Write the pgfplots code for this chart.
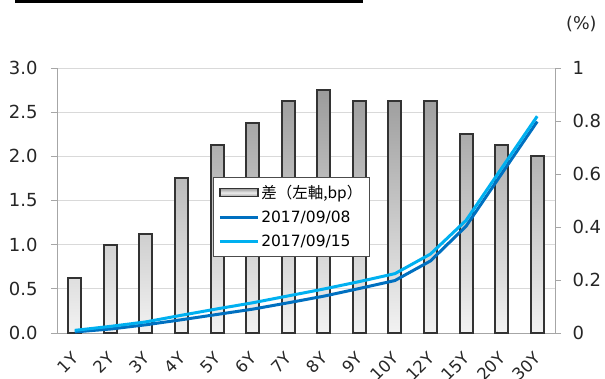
\documentclass[border=0pt]{standalone}
\usepackage{fontspec}
\setmainfont{DejaVu Sans}
\newfontfamily\cjk{Noto Sans CJK JP}
\usepackage{pgfplots}
\pgfplotsset{compat=1.18}
\definecolor{darkblue}{HTML}{0070C0}
\definecolor{lightblue}{HTML}{00B0F0}
\definecolor{gridgray}{HTML}{D9D9D9}
\definecolor{axisgray}{HTML}{A6A6A6}
\pgfplotsset{shortline/.style={legend image code/.code={\draw[##1] (0pt,0pt) -- (38pt,0pt);}}}
\begin{document}
\begin{tikzpicture}[x=1pt,y=1pt]
\useasboundingbox (0,0) rectangle (605,378);
\draw[line width=3pt] (15,376.5) -- (363,376.5);
\node[anchor=west, font=\fontsize{17.5}{20}\selectfont, text=black!85, inner sep=0pt] at (566,354) {(\%)};
\begin{axis}[
  at={(57pt,45pt)}, anchor=south west, scale only axis,
  width=498pt, height=265pt,
  xmin=-0.5, xmax=13.5, ymin=0, ymax=3,
  axis x line*=bottom, axis y line*=left,
  axis line style={axisgray, line width=0.8pt},
  ytick={0,0.5,1,1.5,2,2.5,3},
  yticklabels={0.0,0.5,1.0,1.5,2.0,2.5,3.0},
  ymajorgrids, grid style={gridgray, line width=0.8pt},
  xtick={0,...,13},
  xticklabels={1Y,2Y,3Y,4Y,5Y,6Y,7Y,8Y,9Y,10Y,12Y,15Y,20Y,30Y},
  minor xtick={-0.5,0.5,...,13.5},
  tick align=outside,
  major tick length=6pt, minor tick length=6pt,
  xtick style={draw=none},
  minor tick style={axisgray, line width=0.8pt},
  ytick style={axisgray, line width=0.8pt},
  tick label style={text=black!85},
  yticklabel style={font=\fontsize{18}{20}\selectfont, xshift=-10pt},
  xticklabel style={font=\fontsize{16.5}{19}\selectfont, xshift=3pt, yshift=-14pt, rotate=45, anchor=east},
  /pgf/number format/assume math mode=true,
]
\addplot[ybar, bar width=13pt, draw=black!80, line width=2pt,
  top color=gray!78, bottom color=gray!10] coordinates {
(0,0.625) (1,1.0) (2,1.125) (3,1.75) (4,2.125) (5,2.375) (6,2.625)
(7,2.75) (8,2.625) (9,2.625) (10,2.625) (11,2.25) (12,2.125) (13,2.0)};
\end{axis}
\begin{axis}[
  at={(57pt,45pt)}, anchor=south west, scale only axis,
  width=498pt, height=265pt,
  xmin=-0.5, xmax=13.5, ymin=0, ymax=1,
  axis x line=none, axis y line*=right,
  axis line style={axisgray, line width=0.8pt},
  ytick={0,0.2,0.4,0.6,0.8,1},
  yticklabels={0,0.2,0.4,0.6,0.8,1},
  tick align=outside, major tick length=6pt,
  ytick style={axisgray, line width=0.8pt},
  tick label style={font=\fontsize{18}{20}\selectfont, text=black!85},
  yticklabel style={xshift=8pt},
  legend style={at={(0.313,0.589)}, anchor=north west, draw=black!70,
    line width=0.8pt, font=\fontsize{15.5}{18}\selectfont,
    row sep=7pt, inner xsep=5pt, inner ysep=6pt},
  legend cell align=left,
]
\addlegendimage{legend image code/.code={\draw[draw=black!80, line width=1.5pt, top color=gray!75, bottom color=gray!75, middle color=gray!15] (0pt,-4pt) rectangle (38pt,4pt);}}
\addlegendentry{{\cjk 差（左軸,bp）}}
\addplot[darkblue, line width=3pt, sharp plot, shortline] coordinates {
(0,0.004) (1,0.015) (2,0.031) (3,0.050) (4,0.070) (5,0.090) (6,0.114)
(7,0.139) (8,0.168) (9,0.198) (10,0.272) (11,0.403) (12,0.601) (13,0.798)};
\addlegendentry{2017/09/08}
\addplot[lightblue, line width=3pt, sharp plot, shortline] coordinates {
(0,0.010) (1,0.025) (2,0.042) (3,0.067) (4,0.091) (5,0.114) (6,0.140)
(7,0.166) (8,0.194) (9,0.224) (10,0.298) (11,0.425) (12,0.622) (13,0.818)};
\addlegendentry{2017/09/15}
\end{axis}
\end{tikzpicture}
\end{document}
